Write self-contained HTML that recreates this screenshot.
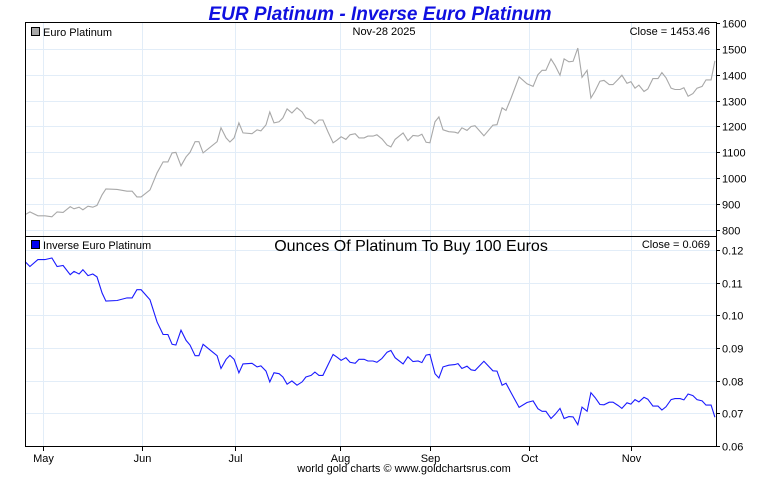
<!DOCTYPE html>
<html><head><meta charset="utf-8"><style>
body{margin:0;background:#fff;width:760px;height:475px;overflow:hidden;font-family:"Liberation Sans",sans-serif}
</style></head><body>
<svg id="chart" width="760" height="475" xmlns="http://www.w3.org/2000/svg" font-family="Liberation Sans, sans-serif">
<text x="380" y="20" text-anchor="middle" font-size="19" font-weight="bold" font-style="italic" fill="#1010e0">EUR Platinum - Inverse Euro Platinum</text>
<g id="grid"></g>
<g id="series"></g>
<rect x="25.5" y="22.5" width="691" height="214" fill="none" stroke="#000"/>
<rect x="25.5" y="236.5" width="691" height="210" fill="none" stroke="#000"/>
<g id="axes" font-size="11"></g>
<rect x="31.5" y="27.5" width="8" height="8" fill="#a8a8a8" stroke="#000"/>
<text x="43" y="36" font-size="11">Euro Platinum</text>
<text x="384" y="35" font-size="11" text-anchor="middle">Nov-28  2025</text>
<text x="710" y="35" font-size="11" text-anchor="end">Close = 1453.46</text>
<rect x="31.5" y="240.5" width="8" height="8" fill="#0000ee" stroke="#000"/>
<text x="43" y="249" font-size="11">Inverse Euro Platinum</text>
<text x="411" y="251" font-size="16" text-anchor="middle">Ounces Of Platinum To Buy 100 Euros</text>
<text x="710" y="248" font-size="11" text-anchor="end">Close = 0.069</text>
<text x="404" y="472" font-size="11" text-anchor="middle">world gold charts © www.goldchartsrus.com</text>
</svg>
<script>
// days since May 1 2025
const days=[-5.6,-4.1,-1.6,0.6,2.8,4.4,6.3,8.5,9.7,11.3,12.5,14.1,15.6,16.9,18.5,19.7,23.2,26.3,27.9,29.4,30.7,33.5,35.7,37.6,39.1,40.4,41.6,43.2,44.8,46.0,47.6,48.8,50.1,54.5,55.7,57.3,58.5,59.8,61.3,62.6,65.4,67.0,68.2,69.8,71.0,72.3,73.9,75.1,76.4,77.9,79.5,81.1,82.3,83.9,85.1,86.4,87.6,89.2,90.8,92.0,93.3,94.8,96.1,97.7,98.9,100.5,101.7,103.3,104.5,106.1,107.7,108.9,110.2,112.7,114.2,115.8,117.4,118.6,119.9,121.1,122.7,123.9,125.2,127.0,128.9,129.9,131.1,132.7,134.0,135.2,138.0,140.8,142.1,143.7,144.9,146.5,149.0,151.5,153.4,154.9,156.2,157.4,159.0,160.3,161.8,163.1,164.6,165.9,167.4,168.7,170.3,171.5,172.8,174.3,175.6,177.2,178.4,180.0,181.2,182.8,184.0,185.3,186.5,188.1,189.3,190.9,192.5,193.7,195.0,196.6,197.8,199.4,200.6,201.9,203.4,204.7,206.3,207.5,209.1,210.3];
const platinum=[859,870,855,855,851,870,868,890,882,888,878,892,888,895,936,959,957,950,950,928,928,955,1021,1063,1063,1098,1100,1048,1083,1100,1141,1141,1098,1141,1195,1156,1140,1156,1214,1175,1172,1187,1183,1206,1256,1214,1218,1233,1268,1252,1272,1256,1233,1225,1210,1225,1225,1179,1137,1147,1160,1150,1168,1172,1156,1156,1163,1163,1168,1152,1128,1121,1150,1175,1145,1165,1163,1170,1139,1137,1218,1237,1187,1180,1178,1174,1195,1185,1200,1203,1164,1205,1207,1272,1262,1310,1392,1365,1355,1400,1417,1417,1461,1435,1398,1461,1450,1452,1503,1390,1417,1310,1337,1375,1378,1362,1362,1382,1398,1367,1373,1348,1360,1335,1345,1385,1385,1408,1388,1348,1343,1343,1350,1317,1327,1348,1355,1380,1380,1453.46];
const inverse=[.1164,.1149,.1170,.1170,.1175,.1149,.1152,.1124,.1134,.1126,.1139,.1121,.1126,.1117,.1068,.1043,.1045,.1053,.1053,.1078,.1078,.1047,.0979,.0941,.0941,.0911,.0909,.0954,.0923,.0909,.0876,.0876,.0911,.0876,.0837,.0865,.0877,.0865,.0824,.0851,.0853,.0842,.0845,.0829,.0796,.0824,.0821,.0811,.0789,.0799,.0786,.0796,.0811,.0816,.0826,.0816,.0816,.0848,.0880,.0872,.0862,.0870,.0856,.0853,.0865,.0865,.0860,.0860,.0856,.0868,.0887,.0892,.0870,.0851,.0873,.0858,.0860,.0855,.0878,.0880,.0821,.0808,.0842,.0847,.0849,.0852,.0837,.0844,.0833,.0831,.0859,.0830,.0829,.0786,.0792,.0763,.0718,.0733,.0738,.0714,.0706,.0706,.0684,.0697,.0715,.0684,.0690,.0689,.0665,.0719,.0706,.0763,.0748,.0727,.0726,.0734,.0734,.0724,.0715,.0732,.0728,.0742,.0735,.0749,.0743,.0722,.0722,.0710,.0720,.0742,.0745,.0745,.0741,.0759,.0754,.0742,.0738,.0725,.0725,.0688];
const topTicks=[800,900,1000,1100,1200,1300,1400,1500,1600];
const botTicks=[0.06,0.07,0.08,0.09,0.10,0.11,0.12];
const months=["May","Jun","Jul","Aug","Sep","Oct","Nov"];
const monthDays=[0,31,60,93,121,152,184];

const NS="http://www.w3.org/2000/svg";
const xS=d=>43+d*3.195;
const yTop=v=>230-(v-800)*0.2588;
const yBot=v=>446-(v-0.06)*3270;
function mk(tag,attrs,parent){const e=document.createElementNS(NS,tag);for(const k in attrs)e.setAttribute(k,attrs[k]);parent.appendChild(e);return e;}
const grid=document.getElementById('grid'),axes=document.getElementById('axes'),series=document.getElementById('series');
topTicks.forEach(v=>{const y=Math.round(yTop(v))+0.5;
 if(v<1600){const g=mk('line',{x1:26,x2:716,y1:y,y2:y,stroke:'#e2edf8'},grid);
 
 }
 const t=mk('line',{x1:716,x2:720,y1:y,y2:y,stroke:'#000'},axes);
 
 
 const l=mk('text',{x:722,y:y+4},axes);l.textContent=v;
 
 });
botTicks.forEach(v=>{const y=Math.round(yBot(v))+0.5;
 if(v>0.06){const g=mk('line',{x1:26,x2:716,y1:y,y2:y,stroke:'#e2edf8'},grid);
 
 }
 const t=mk('line',{x1:716,x2:720,y1:y,y2:y,stroke:'#000'},axes);
 
 
 const l=mk('text',{x:722,y:y+4},axes);l.textContent=v.toFixed(2);
 
 });
months.forEach((m,i)=>{const x=Math.round(xS(monthDays[i]))+0.5;
 const g=mk('line',{x1:x,x2:x,y1:23,y2:446,stroke:'#e2edf8'},grid);
 
 
 const t=mk('line',{x1:x,x2:x,y1:446,y2:451,stroke:'#000'},axes);
 
 
 const l=mk('text',{x:x,y:462,'text-anchor':'middle'},axes);l.textContent=m;
 
 });
const p1=mk('polyline',{points:days.map((d,i)=>xS(d).toFixed(1)+','+yTop(platinum[i]).toFixed(1)).join(' '),fill:'none',stroke:'#a8a8a8','stroke-width':1.1},series);


const p2=mk('polyline',{points:days.map((d,i)=>xS(d).toFixed(1)+','+yBot(inverse[i]).toFixed(1)).join(' '),fill:'none',stroke:'#1a1aff','stroke-width':1.1},series);


</script>
</body></html>
